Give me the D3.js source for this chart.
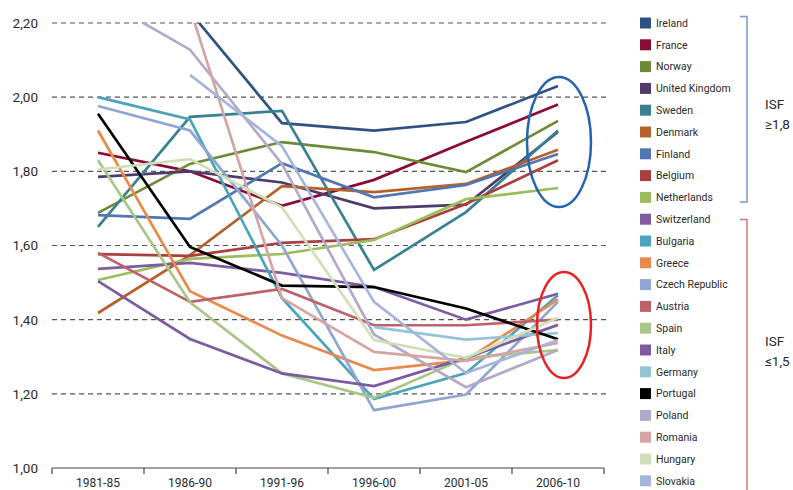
<!DOCTYPE html>
<html>
<head>
<meta charset="utf-8">
<script src="https://cdn.jsdelivr.net/npm/d3@7"></script>
<style>
  html, body { margin: 0; padding: 0; background: #fff; }
  svg { display: block; font-family: Roboto, "DejaVu Sans", sans-serif; }
</style>
</head>
<body>
<svg id="chart" width="793" height="490"></svg>
<script>
// ---- data ----
const periods = ["1981-85", "1986-90", "1991-96", "1996-00", "2001-05", "2006-10"];
const yTicks = [1.0, 1.2, 1.4, 1.6, 1.8, 2.0, 2.2];

const countries = ["Ireland", "France", "Norway", "United Kingdom", "Sweden", "Denmark", "Finland",
  "Belgium", "Netherlands", "Switzerland", "Bulgaria", "Greece", "Czech Republic", "Austria",
  "Spain", "Italy", "Germany", "Portugal", "Poland", "Romania", "Hungary", "Slovakia"];

const ireland     = [2.85, 2.23, 1.93, 1.91, 1.933, 2.03];
const france      = [1.85, 1.80, 1.707, 1.777, 1.88, 1.98];
const norway      = [1.688, 1.82, 1.879, 1.852, 1.798, 1.936];
const uk          = [1.785, 1.80, 1.77, 1.70, 1.71, 1.906];
const sweden      = [1.65, 1.947, 1.963, 1.534, 1.69, 1.91];
const denmark     = [1.418, 1.574, 1.76, 1.744, 1.766, 1.858];
const finland     = [1.682, 1.672, 1.822, 1.73, 1.763, 1.847];
const belgium     = [1.577, 1.572, 1.607, 1.617, 1.712, 1.83];
const netherlands = [1.507, 1.564, 1.577, 1.615, 1.725, 1.755];
const switzerland = [1.537, 1.553, 1.526, 1.488, 1.40, 1.47];
const bulgaria    = [2.00, 1.94, 1.458, 1.186, 1.256, 1.466];
const greece      = [1.91, 1.477, 1.357, 1.264, 1.29, 1.455];
const czech       = [1.976, 1.91, 1.60, 1.156, 1.198, 1.448];
const austria     = [1.58, 1.448, 1.483, 1.385, 1.385, 1.40];
const spain       = [1.83, 1.447, 1.255, 1.189, 1.297, 1.318];
const italy       = [1.504, 1.348, 1.255, 1.221, 1.297, 1.386];
const germany     = [null, null, null, 1.38, 1.346, 1.364];
const portugal    = [1.955, 1.596, 1.492, 1.488, 1.43, 1.347];
const poland      = [2.27, 2.128, 1.82, 1.36, 1.218, 1.318];
const romania     = [null, 2.24, 1.458, 1.313, 1.289, 1.337];
const hungary     = [1.805, 1.833, 1.703, 1.345, 1.297, 1.405];
const slovakia    = [null, 2.06, 1.868, 1.448, 1.256, 1.345];

const values = [ireland, france, norway, uk, sweden, denmark, finland, belgium, netherlands,
  switzerland, bulgaria, greece, czech, austria, spain, italy, germany, portugal, poland,
  romania, hungary, slovakia];

const colors = ["#2f5284", "#8a0b35", "#6c8a37", "#4e3b6c", "#3a8092", "#b5612b", "#5077b1",
  "#a9403f", "#9dbd5d", "#7d5c9f", "#4aa4be", "#e98a4c", "#8fa6d2", "#be626a",
  "#a8c687", "#7a5c9f", "#95c4d7", "#000000", "#b4a8c9", "#d7a4a4", "#cfe0b8", "#a7b5da"];

const groupLabels = [["ISF", "\u22651,8"], ["ISF", "\u22641,5"]];

// ---- layout ----
const svg = d3.select("#chart");
const plotLeft = 52, plotRight = 604, plotTop = 23, plotBottom = 468;

const x = d3.scaleBand().domain(periods).range([plotLeft, plotRight]);
const y = d3.scaleLinear().domain([1.0, 2.2]).range([plotBottom, plotTop]);
const fmt = v => d3.format(".2f")(v).replace(".", ",");

// gridlines
svg.append("g").selectAll("line")
  .data(yTicks.filter(d => d > 1.0))
  .join("line")
  .attr("x1", plotLeft).attr("x2", 610)
  .attr("y1", d => y(d)).attr("y2", d => y(d))
  .attr("stroke", "#555").attr("stroke-width", 1.2)
  .attr("stroke-dasharray", "5,4");

// y labels
svg.append("g").selectAll("text")
  .data(yTicks)
  .join("text")
  .attr("x", 38).attr("y", d => y(d))
  .attr("dy", "0.36em")
  .attr("text-anchor", "end")
  .attr("font-size", 13.5)
  .attr("fill", "#2a2a2a")
  .text(fmt);

// x axis
const xAxis = svg.append("g").attr("transform", `translate(0,${plotBottom})`);
xAxis.append("line").attr("x1", plotLeft).attr("x2", plotRight)
  .attr("stroke", "#444").attr("stroke-width", 1.2);
const bounds = periods.map(p => x(p)).concat([plotRight]);
xAxis.selectAll("line.tick").data(bounds).join("line").attr("class", "tick")
  .attr("x1", d => d).attr("x2", d => d).attr("y1", 0).attr("y2", 6)
  .attr("stroke", "#444").attr("stroke-width", 1.2);
xAxis.selectAll("text").data(periods).join("text")
  .attr("x", d => x(d) + x.bandwidth() / 2)
  .attr("y", 19)
  .attr("text-anchor", "middle")
  .attr("font-size", 12)
  .attr("fill", "#2a2a2a")
  .text(d => d);

// clip
svg.append("clipPath").attr("id", "clip")
  .append("rect").attr("x", plotLeft).attr("y", plotTop)
  .attr("width", 620 - plotLeft).attr("height", plotBottom - plotTop);

const line = d3.line()
  .defined(d => d.v != null)
  .x(d => x(d.p) + x.bandwidth() / 2)
  .y(d => y(d.v));

const series = countries.map((c, i) => ({
  name: c, color: colors[i],
  pts: periods.map((p, j) => ({ p, v: values[i][j] }))
}));

svg.append("g").attr("clip-path", "url(#clip)")
  .selectAll("path")
  .data(series)
  .join("path")
  .attr("d", d => line(d.pts))
  .attr("fill", "none")
  .attr("stroke", d => d.color)
  .attr("stroke-width", 2.7)
  .attr("stroke-linejoin", "miter");

// ellipses
svg.append("ellipse").attr("cx", 559).attr("cy", 142).attr("rx", 32).attr("ry", 65)
  .attr("fill", "none").attr("stroke", "#2463b0").attr("stroke-width", 2.5);
svg.append("ellipse").attr("cx", 564).attr("cy", 325).attr("rx", 27).attr("ry", 53)
  .attr("fill", "none").attr("stroke", "#e62222").attr("stroke-width", 2.5);

// legend
const legend = svg.append("g");
const legY = i => 23 + i * 21.8;
legend.selectAll("rect").data(series).join("rect")
  .attr("x", 640).attr("y", (d, i) => legY(i) - 5.5)
  .attr("width", 11).attr("height", 11)
  .attr("fill", d => d.color);
legend.selectAll("text").data(series).join("text")
  .attr("x", 656).attr("y", (d, i) => legY(i))
  .attr("dy", "0.36em")
  .attr("font-size", 10.5)
  .attr("fill", "#2a2a2a")
  .text(d => d.name);

// brackets
svg.append("path")
  .attr("d", "M740,16.5H747V202H740")
  .attr("fill", "none").attr("stroke", "#7398c9").attr("stroke-width", 1.5);
svg.append("path")
  .attr("d", "M740,219.5H747V495")
  .attr("fill", "none").attr("stroke", "#e4707a").attr("stroke-width", 1.5);

const gl = svg.append("g");
[[104, 0], [341, 1]].forEach(([cy, k]) => {
  gl.append("text").attr("x", 765).attr("y", cy).attr("dy", "0.36em")
    .attr("font-size", 13.5).attr("fill", "#2a2a2a").text(groupLabels[k][0]);
  gl.append("text").attr("x", 765).attr("y", cy + 20).attr("dy", "0.36em")
    .attr("font-size", 13.5).attr("fill", "#2a2a2a").text(groupLabels[k][1]);
});
</script>
</body>
</html>
